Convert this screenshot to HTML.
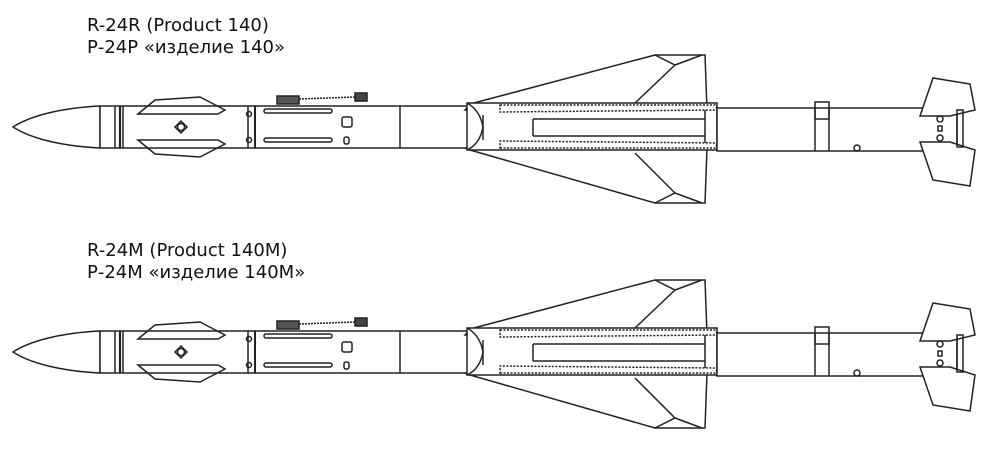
<!DOCTYPE html>
<html><head><style>
html,body{margin:0;padding:0;background:#fff;}
.t{position:absolute;left:87px;font-family:"DejaVu Sans","Liberation Sans",sans-serif;font-size:18px;color:#111;line-height:22px;}
</style></head><body>
<div style="position:relative;width:1000px;height:460px;overflow:hidden">
<div class="t" style="top:15px">R-24R (Product 140)<br>Р-24Р «изделие 140»</div>
<div class="t" style="top:240px">R-24M (Product 140M)<br>Р-24М «изделие 140М»</div>
<svg width="1000" height="460" style="position:absolute;left:0;top:0">
<defs>
<g id="m" fill="none" stroke="#222" stroke-width="1.5">
<path d="M100,106 C60,108 30,116 13,127 C30,138 60,146 100,148 Z" fill="#fff"/>
<rect x="100" y="106" width="370" height="42" fill="#fff"/>
<line x1="115" y1="106" x2="115" y2="148"/><line x1="120" y1="106" x2="120" y2="148" stroke-width="2.2"/><line x1="123" y1="106" x2="123" y2="148"/>
<path d="M138,114 L155,100 L200,97 L225,110 L218,114 Z"/>
<path d="M138,140 L155,154 L200,157 L225,144 L218,140 Z"/>
<path d="M175,127 l6,-6 l6,6 l-6,6 z"/><circle cx="181" cy="127" r="3.5"/>
<line x1="248" y1="106" x2="248" y2="148"/><line x1="255" y1="106" x2="255" y2="148" stroke-width="2"/>
<circle cx="249" cy="114" r="2.5"/><circle cx="249" cy="140" r="2.5"/>
<rect x="264" y="109" width="68" height="4" rx="2"/><rect x="264" y="138" width="68" height="4" rx="2"/>
<rect x="277" y="96" width="22" height="8" fill="#555"/><line x1="299" y1="99" x2="355" y2="97" stroke-dasharray="2 1"/><rect x="355" y="93" width="12" height="8" fill="#444"/>
<rect x="342" y="117" width="10" height="10" rx="2"/><rect x="344" y="137" width="5" height="7" rx="2"/>
<line x1="400" y1="106" x2="400" y2="148"/>
<path d="M470,104 L655,55 L705,55 L707,110 L465,110 Z" fill="#fff"/>
<path d="M470,150 L655,203 L705,203 L707,148 L465,148 Z" fill="#fff"/>
<path d="M655,55 L675,65 L702,55 M675,65 L635,103"/>
<path d="M655,203 L675,193 L702,203 M675,193 L635,153"/>
<rect x="467" y="103" width="250" height="47" fill="#fff"/>
<path d="M467,103 Q480,110 483,127 Q480,144 467,150"/>
<line x1="483" y1="115" x2="483" y2="140"/>
<path d="M500,105 L715,105 L718,110 L500,112 Z" stroke-dasharray="2 1.5"/>
<path d="M500,148 L715,148 L718,143 L500,141 Z" stroke-dasharray="2 1.5"/>
<line x1="533" y1="119" x2="705" y2="119"/><line x1="533" y1="136" x2="705" y2="136"/>
<line x1="533" y1="119" x2="533" y2="136"/><line x1="705" y1="110" x2="705" y2="143"/>
<rect x="717" y="108" width="240" height="43" fill="#fff"/>
<rect x="815" y="102" width="14" height="17"/><line x1="815" y1="108" x2="815" y2="151"/><line x1="829" y1="108" x2="829" y2="151"/>
<path d="M920,116 L933,78 L970,84 L975,110 L950,116 Z" fill="#fff"/>
<path d="M920,142 L933,180 L970,186 L975,150 L950,142 Z" fill="#fff"/>
<rect x="957" y="110" width="6" height="37"/>
<circle cx="940" cy="119" r="3"/><circle cx="940" cy="138" r="3"/><rect x="938" y="126" width="4" height="5"/>
<circle cx="857" cy="148" r="3"/>
</g>
</defs>
<use href="#m"/>
<use href="#m" transform="translate(0,225)"/>
</svg>
</div>
</body></html>
